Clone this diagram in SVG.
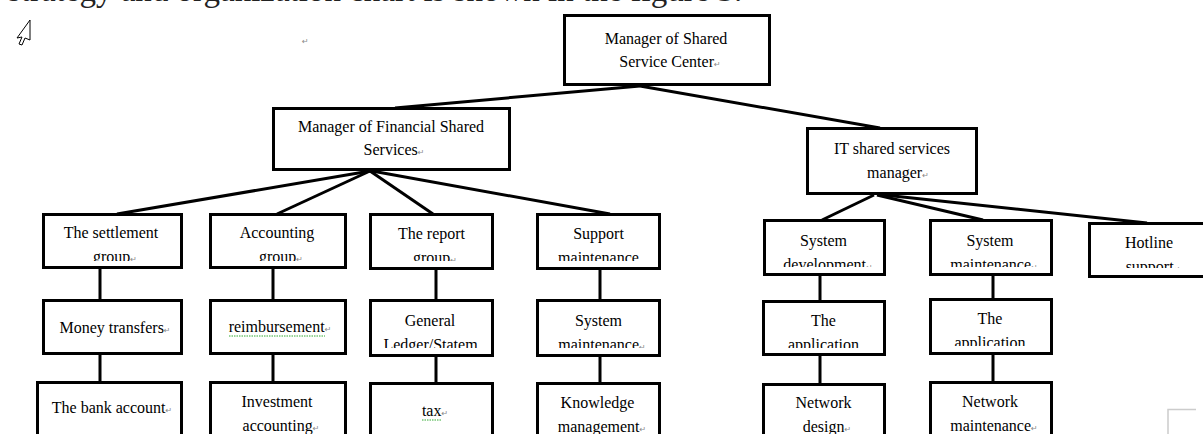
<svg xmlns="http://www.w3.org/2000/svg" width="1203" height="434" viewBox="0 0 1203 434">
<style>
.box{fill:#fff;stroke:#000;stroke-width:3}
.con{stroke:#000;stroke-width:3;fill:none}
.t{font-family:"Liberation Serif","Times New Roman",serif;font-size:16px;fill:#000;text-anchor:middle}
.r{font-family:"DejaVu Sans",sans-serif;font-size:8px;fill:#888}
.sq{stroke:#3a3;stroke-width:1;fill:none;stroke-dasharray:1.5 1}
</style>
<defs>
<clipPath id="c3l" clipPathUnits="userSpaceOnUse"><rect x="0" y="200" width="700" height="61"/></clipPath>
<clipPath id="c3r" clipPathUnits="userSpaceOnUse"><rect x="700" y="200" width="380" height="67"/></clipPath>
<clipPath id="c3h" clipPathUnits="userSpaceOnUse"><rect x="1080" y="200" width="123" height="68"/></clipPath>
<clipPath id="c4a" clipPathUnits="userSpaceOnUse"><rect x="0" y="290" width="900" height="58"/></clipPath>
<clipPath id="c4b" clipPathUnits="userSpaceOnUse"><rect x="900" y="290" width="200" height="56"/></clipPath>
</defs>
<rect width="1203" height="434" fill="#fff"/>
<text x="8" y="1" style="font-family:'Liberation Serif',serif;font-size:33px;fill:#222">strategy and organization chart is shown in the figure 3.</text>
<path d="M30 20 L17 38 L22 37 L19 44 L22 45 L25 38 L30 40 Z" fill="#fff" stroke="#000" stroke-width="1"/>
<text x="302" y="44" class="r">↵</text>
<path d="M1168 434 V409.5 H1196" stroke="#ccc" stroke-width="1.5" fill="none"/>
<g id="connectors">
<path class="con" d="M640 86 L395 108"/>
<path class="con" d="M640 86 L880 128"/>
<path class="con" d="M370 171 L117 214"/>
<path class="con" d="M370 171 L277 214"/>
<path class="con" d="M370 171 L433 214"/>
<path class="con" d="M372 171 L610 214"/>
<path class="con" d="M874 195 L822 220"/>
<path class="con" d="M877 195 L983 220"/>
<path class="con" d="M884 195 L1147 223"/>
<path class="con" d="M100 268 V300 M100 354 V382"/>
<path class="con" d="M273 268 V300 M273 354 V382"/>
<path class="con" d="M436 269 V300 M436 356 V383"/>
<path class="con" d="M600 269 V300 M600 356 V383"/>
<path class="con" d="M820 275 V301 M820 355 V384"/>
<path class="con" d="M993 272 V299 M993 354 V382"/>
</g>
<g id="n-top"><rect class="box" x="564.5" y="15.5" width="205" height="69"/>
<text class="t" x="666" y="44">Manager of Shared</text>
<text class="t" x="670" y="67">Service Center<tspan class="r">↵</tspan></text></g>
<g id="n-fin"><rect class="box" x="273.5" y="108.5" width="236" height="61"/>
<text class="t" x="391" y="132">Manager of Financial Shared</text>
<text class="t" x="394" y="155">Services<tspan class="r">↵</tspan></text></g>
<g id="n-it"><rect class="box" x="807.5" y="128.5" width="169" height="65"/>
<text class="t" x="892" y="154">IT shared services</text>
<text class="t" x="898" y="178">manager<tspan class="r">↵</tspan></text></g>
<g id="n-settle"><rect class="box" x="43.5" y="214.5" width="138" height="53"/>
<text class="t" x="111" y="238">The settlement</text>
<text class="t" x="115" y="262" clip-path="url(#c3l)">group<tspan class="r">↵</tspan></text></g>
<g id="n-acct"><rect class="box" x="210.5" y="214.5" width="135" height="53"/>
<text class="t" x="277" y="238">Accounting</text>
<text class="t" x="281" y="262" clip-path="url(#c3l)">group<tspan class="r">↵</tspan></text></g>
<g id="n-report"><rect class="box" x="370.5" y="214.5" width="122" height="54"/>
<text class="t" x="431.5" y="239">The report</text>
<text class="t" x="435" y="263" clip-path="url(#c3l)">group<tspan class="r">↵</tspan></text></g>
<g id="n-support"><rect class="box" x="537.5" y="214.5" width="122" height="54"/>
<text class="t" x="598.5" y="239">Support</text>
<text class="t" x="598.5" y="263" clip-path="url(#c3l)">maintenance</text></g>
<g id="n-sysdev"><rect class="box" x="764.5" y="220.5" width="120" height="54"/>
<text class="t" x="823.5" y="246">System</text>
<text class="t" x="828" y="270" clip-path="url(#c3r)">development<tspan class="r">↵</tspan></text></g>
<g id="n-sysmaint"><rect class="box" x="930.5" y="220.5" width="121" height="54"/>
<text class="t" x="990" y="246">System</text>
<text class="t" x="994" y="270" clip-path="url(#c3r)">maintenance<tspan class="r">↵</tspan></text></g>
<g id="n-hotline"><rect class="box" x="1089.5" y="223.5" width="120" height="53"/>
<text class="t" x="1149" y="248">Hotline</text>
<text class="t" x="1153" y="272" clip-path="url(#c3h)">support<tspan class="r">↵</tspan></text></g>
<g id="n-money"><rect class="box" x="43.5" y="300.5" width="138" height="53"/>
<text class="t" x="115" y="333">Money transfers<tspan class="r">↵</tspan></text></g>
<g id="n-reimb"><rect class="box" x="210.5" y="300.5" width="135" height="53"/>
<text class="t" x="280" y="332">reimbursement<tspan class="r">↵</tspan></text>
<path class="sq" d="M229 336 H325"/></g>
<g id="n-gl"><rect class="box" x="370.5" y="300.5" width="122" height="55"/>
<text class="t" x="430" y="326">General</text>
<text class="t" x="430.5" y="350" clip-path="url(#c4a)">Ledger/Statem</text></g>
<g id="n-sysm2"><rect class="box" x="537.5" y="300.5" width="122" height="55"/>
<text class="t" x="598.5" y="326">System</text>
<text class="t" x="602" y="350" clip-path="url(#c4a)">maintenance<tspan class="r">↵</tspan></text></g>
<g id="n-app1"><rect class="box" x="763.5" y="301.5" width="121" height="53"/>
<text class="t" x="823.5" y="326">The</text>
<text class="t" x="823.5" y="350" clip-path="url(#c4a)">application</text></g>
<g id="n-app2"><rect class="box" x="930.5" y="299.5" width="121" height="54"/>
<text class="t" x="990" y="324">The</text>
<text class="t" x="990" y="348" clip-path="url(#c4b)">application</text></g>
<g id="n-bank"><rect class="box" x="37.5" y="382.5" width="144" height="80"/>
<text class="t" x="112" y="413">The bank account<tspan class="r">↵</tspan></text></g>
<g id="n-invest"><rect class="box" x="210.5" y="382.5" width="135" height="80"/>
<text class="t" x="277" y="407">Investment</text>
<text class="t" x="281" y="431">accounting<tspan class="r">↵</tspan></text></g>
<g id="n-tax"><rect class="box" x="370.5" y="383.5" width="122" height="80"/>
<text class="t" x="435" y="416">tax<tspan class="r">↵</tspan></text>
<path class="sq" d="M422 420 H441"/></g>
<g id="n-know"><rect class="box" x="537.5" y="383.5" width="122" height="80"/>
<text class="t" x="597.5" y="408">Knowledge</text>
<text class="t" x="602" y="432">management<tspan class="r">↵</tspan></text></g>
<g id="n-netd"><rect class="box" x="763.5" y="384.5" width="121" height="80"/>
<text class="t" x="823.5" y="408">Network</text>
<text class="t" x="827" y="432">design<tspan class="r">↵</tspan></text></g>
<g id="n-netm"><rect class="box" x="930.5" y="382.5" width="121" height="80"/>
<text class="t" x="990" y="407">Network</text>
<text class="t" x="994" y="431">maintenance<tspan class="r">↵</tspan></text></g>
</svg>
